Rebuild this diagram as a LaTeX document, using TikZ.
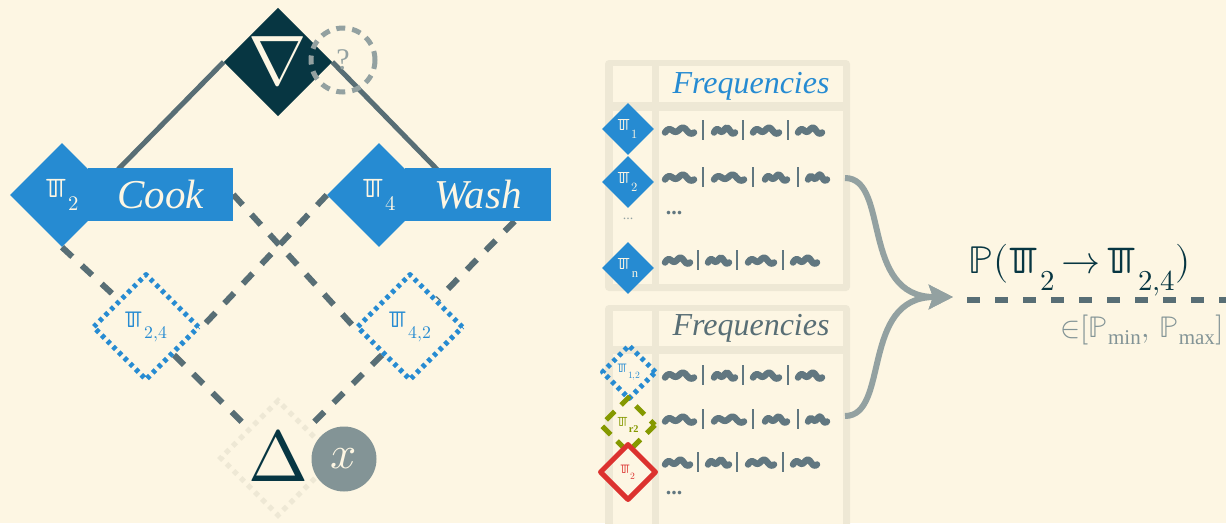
\documentclass[tikz,border=0pt]{standalone}
\usepackage{fontspec}
\usepackage{unicode-math}
\setmainfont{Liberation Serif}
\setmathfont{Latin Modern Math}
\newfontfamily\lmmath{Latin Modern Math}
\newfontfamily\djserif{DejaVu Serif}
\newfontfamily\djsans{DejaVu Sans}
\usetikzlibrary{shapes.geometric,arrows.meta,calc}
\pgfdeclarelayer{bg}
\pgfsetlayers{bg,main}
\definecolor{cream}{HTML}{FDF6E3}
\definecolor{sbase2}{HTML}{EEE8D5}
\definecolor{sdark}{HTML}{073642}
\definecolor{sbase01}{HTML}{586E75}
\definecolor{sbase00}{HTML}{617780}
\definecolor{sbase0}{HTML}{839496}
\definecolor{sbase1}{HTML}{93A1A1}
\definecolor{sblue}{HTML}{268BD2}
\definecolor{sgreen}{HTML}{859900}
\definecolor{sred}{HTML}{DC322F}
\newcommand\bpiglyph{\scalebox{1.5}{\lmmath\iffontchar\font"213C\relax ℼ\else\djserif\iffontchar\font"213C\relax ℼ\else\djsans ℼ\fi\fi}}
\newcommand\pis[1]{\mbox{\bpiglyph\kern0.04em\raisebox{-0.45em}{\scalebox{0.74}{$#1$}}}}
\newcommand\fsz[1]{\fontsize{#1}{#1}\selectfont}
\tikzset{
  dia/.style={diamond, aspect=1, inner sep=0pt, minimum size=#1},
  solidl/.style={draw=sbase01, line width=5pt},
  dashl/.style={draw=sbase01, line width=6pt, dash pattern=on 14pt off 13pt},
  bluedot/.style={draw=sblue, line width=5pt, dash pattern=on 4pt off 4pt, line join=round},
  greendash/.style={draw=sgreen, line width=5pt, dash pattern=on 12pt off 9pt, dash phase=6pt},
  reddia/.style={draw=sred, line width=5pt, line join=round},
  labelrect/.style={fill=sblue, inner sep=0pt, text=cream, font=\itshape\fsz{41}},
  scrib/.style={draw=sbase00, line width=6.5pt, line cap=round, line join=round},
  barst/.style={draw=sbase00, line width=2.4pt},
  curvearrow/.style={draw=sbase1, line width=6pt, -{Stealth[length=24pt,width=24pt,inset=4pt]}},
  freq/.style={anchor=base, font=\itshape\fsz{32}},
}
\newcommand\squig[3]{\draw[scrib] plot[smooth, samples=14, domain=0:1, variable=\t] ({#1+3+(#2-#1-6)*\t},{#3+2.5-2.2*sin(720*\t)-3*sin(180*\t)});}
\newcommand\vbarat[2]{\draw[barst] (#1,#2-10) -- (#1,#2+10);}
\newcommand\rowA[1]{\squig{662}{697}{#1}\vbarat{703}{#1}\squig{711}{738}{#1}\vbarat{743}{#1}\squig{750}{782}{#1}\vbarat{788}{#1}\squig{795}{825}{#1}}
\newcommand\rowB[1]{\squig{662}{697}{#1}\vbarat{703}{#1}\squig{711}{747}{#1}\vbarat{753}{#1}\squig{762}{790}{#1}\vbarat{798}{#1}\squig{805}{830}{#1}}
\newcommand\rowC[1]{\squig{662}{693}{#1}\vbarat{698}{#1}\squig{705}{732}{#1}\vbarat{737}{#1}\squig{745}{777}{#1}\vbarat{783}{#1}\squig{790}{820}{#1}}
\begin{document}
\begin{tikzpicture}[x=1pt,y=-1pt]
\useasboundingbox (0,0) rectangle (1226,523);
\begin{pgfonlayer}{bg}
\fill[cream] (0,0) rectangle (1226,523);
\end{pgfonlayer}

% ---- left diagram nodes
\node[dia=104pt, fill=sdark, text=cream, font=\fsz{70}] (nabla) at (278,62) {\raisebox{-6pt}{$\nabla$}};
\node[circle, draw=sbase1, line width=5pt, dash pattern=on 9pt off 7pt, minimum size=64pt, inner sep=0pt, text=sbase1, font=\fsz{30}] (q) at (343,60) {?};

\node[labelrect, minimum width=145pt, minimum height=53pt] (cook) at (160.5,194.5) {Cook};
\node[dia=104pt, fill=sblue, text=cream, font=\fsz{28}] (p2) at (62,195) {\pis{2}};
\node[labelrect, minimum width=146pt, minimum height=53pt] (wash) at (478,194.5) {Wash};
\node[dia=104pt, fill=sblue, text=cream, font=\fsz{28}] (p4) at (379,195) {\pis{4}};

\node[dia=107pt, bluedot, text=sblue, font=\fsz{24}] (p24) at (146,327) {\pis{2{,}4}};
\node[dia=107pt, bluedot, text=sblue, font=\fsz{24}] (p42) at (410,327) {\pis{4{,}2}};

\node[dia=108pt, draw=sbase2, line width=5pt, dash pattern=on 5pt off 5pt, text=sdark, font=\fsz{72}] (delta) at (278,458) {\raisebox{5pt}{$\Delta$}};
\node[circle, fill=sbase0, minimum size=65pt, inner sep=0pt, text=cream, font=\fsz{46}] (xc) at (344,459) {$x$};

\coordinate (cookjoin) at (93,195);
\coordinate (washjoin) at (462,195);
\coordinate (washfoot) at ($(wash.south)!0.5!(wash.south east)$);

\begin{pgfonlayer}{bg}
\draw[solidl] (nabla.west) -- (cookjoin);
\draw[solidl] (nabla.east) -- (washjoin);
\draw[dashl] (p2.south) -- (p24.north west);
\draw[dashl] (cook.east) -- (p42.west);
\draw[dashl] (p4.west) -- (p24.east);
\draw[dashl] (washfoot) -- (p42.north east);
\draw[dashl] (p24.south east) -- (delta.north west);
\draw[dashl] (p42.south west) -- (delta.north east);
\end{pgfonlayer}

% ---- table 1
\fill[sbase2, rounded corners=4pt] (605,60) rectangle (850,291);
\fill[cream] (613,66) rectangle (652,102);
\fill[cream] (659,66) rectangle (843,102);
\fill[cream] (613,111) rectangle (652,284);
\fill[cream] (659,111) rectangle (843,284);
\node[freq, text=sblue] (f1) at (751,93) {Frequencies};
\node[dia=52pt, fill=sblue, text=cream, font=\fsz{17}] (t1a) at (628,129) {\pis{1}};
\node[dia=52pt, fill=sblue, text=cream, font=\fsz{17}] (t1b) at (628,182) {\pis{2}};
\node[text=sbase1, font=\fsz{14}] (t1dots) at (628,219) {...};
\node[dia=52pt, fill=sblue, text=cream, font=\fsz{17}] (t1n) at (628,268) {\pis{\mathrm{n}}};
\rowA{130}
\rowB{177}
\node[text=sbase00, font=\bfseries\fsz{22}] (r1dots) at (674,213) {...};
\rowC{260}
\coordinate (out1) at (845,178);

% ---- table 2
\fill[sbase2, rounded corners=4pt] (605,305) rectangle (850,540);
\fill[cream] (613,311) rectangle (652,346);
\fill[cream] (659,311) rectangle (843,346);
\fill[cream] (613,354) rectangle (652,540);
\fill[cream] (659,354) rectangle (843,540);
\node[freq, text=sbase01] (f2) at (751,335) {Frequencies};
\node[dia=55pt, bluedot, text=sblue, font=\fsz{13}] (t2a) at (629,372) {\pis{1{,}2}};
\node[dia=56pt, greendash, text=sgreen, font=\bfseries\fsz{14}] (t2b) at (628,425) {\pis{\mathbf{r2}}};
\node[dia=57pt, reddia, text=sred, font=\fsz{13}] (t2c) at (628,472) {\pis{2}};
\rowA{375}
\rowB{419}
\rowC{462}
\node[text=sbase00, font=\bfseries\fsz{22}] (r2dots) at (674,493) {...};
\coordinate (out2) at (845,416);

% ---- arrows and formula
\coordinate (tip) at (953,297);
\draw[curvearrow] (out1) .. controls (890,178) and (860,297) .. (tip);
\draw[curvearrow] (out2) .. controls (890,416) and (860,297) .. (tip);
\node[anchor=base west, inner sep=0pt, text=sdark, font=\fsz{39}] (prob) at (968,273) {$\mathbb{P}(\pis{2}\,{\rightarrow}\,\pis{2{,}4})$};
\coordinate (ls) at (967,300);
\coordinate (le) at (1226,300);
\draw[draw=sbase01, line width=6pt, dash pattern=on 13pt off 15pt] (ls) -- (le);
\node[anchor=base east, inner sep=0pt, text=sbase0, font=\fsz{30}] (range) at (1224,337) {$\mathord{\in}[\mathbb{P}_{\min},\,\mathbb{P}_{\max}]$};
\end{tikzpicture}
\end{document}
